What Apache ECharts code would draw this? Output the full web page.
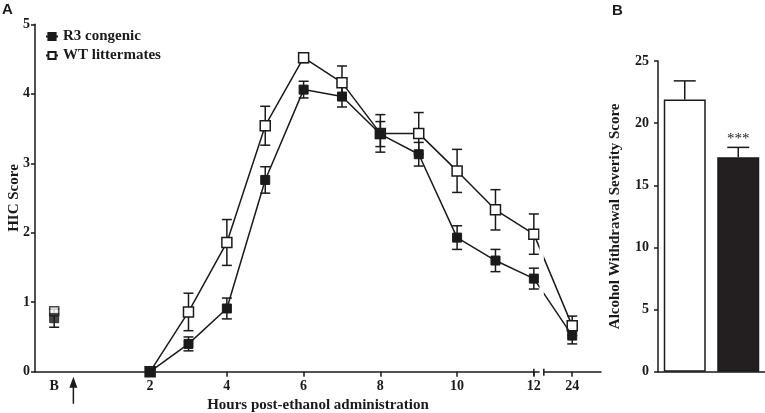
<!DOCTYPE html>
<html>
<head>
<meta charset="utf-8">
<script src="https://cdn.jsdelivr.net/npm/echarts@6/dist/echarts.min.js"></script>
<style>
  html, body { margin: 0; padding: 0; background: #fff; }
  #main { width: 765px; height: 413px; }
</style>
</head>
<body>
<div id="main"></div>
<script>
// panel A: HIC score over time (hours; 24 h sits after the axis break)
var hours  = [2, 3, 4, 5, 6, 7, 8, 9, 10, 11, 12, 24];
var r3Mean = [0, 0.40, 0.91, 2.76, 4.06, 3.96, 3.42, 3.13, 1.93, 1.60, 1.34, 0.52];
var r3Err  = [0, 0.10, 0.15, 0.19, 0.12, 0.15, 0.18, 0.17, 0.17, 0.16, 0.15, 0.12];
var wtMean = [0, 0.86, 1.86, 3.54, 4.52, 4.16, 3.43, 3.43, 2.89, 2.33, 1.98, 0.66];
var wtErr  = [0, 0.27, 0.33, 0.28, 0.07, 0.24, 0.27, 0.30, 0.31, 0.29, 0.29, 0.14];
// baseline ("B") values: mean, sem
var r3Base = [0.77, 0.13];
var wtBase = [0.87, 0.03];
var xTickLabels = ['B', 2, 4, 6, 8, 10, 12, 24];

// panel B: alcohol withdrawal severity score
var groups  = ['WT littermates', 'R3 congenic'];
var awsMean = [21.9, 17.25];
var awsErr  = [1.5, 0.8];
var awsSig  = ['', '***'];

var INK = '#1a1a1a';
var SERIF = '"Liberation Serif", "DejaVu Serif", serif';

// where each hour label sits on the drawn axis
function pos(h) {
  if (h === 'B') return -0.5;
  if (h === 24) return 13;
  return h;
}
var breakFrom = 12.15, breakTo = 12.26;

function pts(means) {
  return hours.map(function (h, i) { return [pos(h), means[i]]; });
}
function errs(means, sems) {
  var out = [];
  hours.forEach(function (h, i) {
    if (sems[i] > 0) out.push([pos(h), means[i] - sems[i], means[i] + sems[i]]);
  });
  return out;
}

function errRender(cap, upOnly) {
  return function (params, api) {
    var x = api.value(0);
    var lo = api.value(1), hi = api.value(2);
    var pLo = api.coord([x, lo]);
    var pHi = api.coord([x, hi]);
    var s = { stroke: INK, lineWidth: 1.5 };
    var kids = [
      { type: 'line', shape: { x1: pLo[0], y1: pLo[1], x2: pHi[0], y2: pHi[1] }, style: s },
      { type: 'line', shape: { x1: pHi[0] - cap, y1: pHi[1], x2: pHi[0] + cap, y2: pHi[1] }, style: s }
    ];
    if (!upOnly) {
      kids.push({ type: 'line', shape: { x1: pLo[0] - cap, y1: pLo[1], x2: pLo[0] + cap, y2: pLo[1] }, style: s });
    }
    if (upOnly && awsSig[params.dataIndex]) {
      kids.push({ type: 'text', x: pHi[0], y: pHi[1] - 1,
        style: { text: awsSig[params.dataIndex], fill: INK, font: '15px ' + SERIF,
                 align: 'center', verticalAlign: 'bottom' } });
    }
    return { type: 'group', children: kids };
  };
}

var openStyle = { color: '#fff', borderColor: INK, borderWidth: 1.5 };
var fillStyle = { color: INK, borderColor: INK, borderWidth: 1 };
var tickFont = { fontFamily: SERIF, fontWeight: 'bold', fontSize: 14, color: INK };
var nameFont = { fontFamily: SERIF, fontWeight: 'bold', fontSize: 15, color: INK };
var letterFont = 'bold 15px "Liberation Sans", Arial, sans-serif';

var chart = echarts.init(document.getElementById('main'));

var option = {
  animation: false,
  legend: {
    data: ['R3 congenic', 'WT littermates'],
    orient: 'vertical',
    left: 40, top: 24,
    itemWidth: 12, itemHeight: 9, itemGap: 4,
    textStyle: nameFont,
    selectedMode: false
  },
  grid: [
    { left: 35, top: 24.3, width: 566, height: 347.4, outerBoundsMode: 'none', containLabel: false },
    { left: 658, top: 61, width: 107, height: 310.7, outerBoundsMode: 'none', containLabel: false }
  ],
  xAxis: [
    {
      type: 'value', gridIndex: 0, min: -1, max: 13.75,
      name: 'Hours post-ethanol administration', nameLocation: 'middle', nameGap: 26,
      nameMoveOverlap: false, nameTextStyle: nameFont,
      splitLine: { show: false },
      axisLine: { onZero: false, lineStyle: { color: INK, width: 1.5 } },
      axisTick: { length: 5, lineStyle: { color: INK, width: 1.5 },
                  customValues: [2, 4, 6, 8, 10, 12, 24].map(pos) },
      axisLabel: Object.assign({ margin: 8,
        customValues: xTickLabels.map(pos),
        formatter: function (v) {
          for (var i = 0; i < xTickLabels.length; i++) {
            if (pos(xTickLabels[i]) === v) return String(xTickLabels[i]);
          }
          return '';
        } }, tickFont)
    },
    {
      type: 'category', gridIndex: 1, data: groups,
      axisLine: { onZero: false, lineStyle: { color: INK, width: 1.5 } },
      axisTick: { show: false }, axisLabel: { show: false }
    }
  ],
  yAxis: [
    {
      type: 'value', gridIndex: 0, min: 0, max: 5, interval: 1,
      name: 'HIC Score', nameLocation: 'middle', nameGap: 13,
      nameMoveOverlap: false, nameTextStyle: nameFont,
      splitLine: { show: false },
      axisLine: { show: true, onZero: false, lineStyle: { color: INK, width: 1.5 } },
      axisTick: { show: true, length: 4, lineStyle: { color: INK, width: 1.5 } },
      axisLabel: Object.assign({ margin: 5 }, tickFont)
    },
    {
      type: 'value', gridIndex: 1, min: 0, max: 25, interval: 5,
      name: 'Alcohol Withdrawal Severity Score', nameLocation: 'middle', nameGap: 35,
      nameMoveOverlap: false, nameTextStyle: nameFont,
      splitLine: { show: false },
      axisLine: { show: true, onZero: false, lineStyle: { color: INK, width: 1.5 } },
      axisTick: { show: true, length: 4, lineStyle: { color: INK, width: 1.5 } },
      axisLabel: Object.assign({ margin: 9 }, tickFont)
    }
  ],
  series: [
    { type: 'custom', name: 'wtErr', xAxisIndex: 0, yAxisIndex: 0, z: 1,
      renderItem: errRender(5, false), encode: { x: 0, y: [1, 2] },
      data: errs(wtMean, wtErr).concat([[pos('B'), wtBase[0] - wtBase[1], wtBase[0] + wtBase[1]]]) },
    { type: 'custom', name: 'r3Err', xAxisIndex: 0, yAxisIndex: 0, z: 1,
      renderItem: errRender(5, false), encode: { x: 0, y: [1, 2] },
      data: errs(r3Mean, r3Err).concat([[pos('B'), r3Base[0] - r3Base[1], r3Base[0] + r3Base[1]]]) },
    { type: 'line', name: 'WT littermates', xAxisIndex: 0, yAxisIndex: 0, z: 3,
      symbol: 'rect', symbolSize: 10, showAllSymbol: true,
      itemStyle: openStyle, lineStyle: { color: INK, width: 1.5 },
      emphasis: { disabled: true }, data: pts(wtMean) },
    { type: 'line', name: 'R3 congenic', xAxisIndex: 0, yAxisIndex: 0, z: 4,
      symbol: 'rect', symbolSize: 9, showAllSymbol: true,
      itemStyle: fillStyle, lineStyle: { color: INK, width: 1.5 },
      emphasis: { disabled: true }, data: pts(r3Mean) },
    { type: 'scatter', name: 'WT base', xAxisIndex: 0, yAxisIndex: 0, z: 3,
      symbol: 'rect', symbolSize: 9, itemStyle: openStyle,
      data: [[pos('B'), wtBase[0]]] },
    { type: 'scatter', name: 'R3 base', xAxisIndex: 0, yAxisIndex: 0, z: 4,
      symbol: 'rect', symbolSize: 9, itemStyle: fillStyle,
      data: [[pos('B'), r3Base[0]]] },
    // axis break: white gap over axis and connecting lines, plus end bars
    { type: 'custom', name: 'break', xAxisIndex: 0, yAxisIndex: 0, z: 10, silent: true,
      data: [[breakFrom, breakTo]],
      renderItem: function (params, api) {
        var a = api.coord([api.value(0), 0]);
        var b = api.coord([api.value(1), 0]);
        var top = api.coord([12, 2.4]);
        var tick12 = api.coord([12, 0]);
        var s = { stroke: INK, lineWidth: 1.5 };
        return { type: 'group', children: [
          { type: 'rect', shape: { x: a[0], y: top[1], width: b[0] - a[0], height: a[1] - top[1] + 2 },
            style: { fill: '#fff' } },
          { type: 'line', shape: { x1: tick12[0], y1: a[1] - 3, x2: tick12[0], y2: a[1] + 4 }, style: s },
          { type: 'line', shape: { x1: b[0], y1: b[1] - 3, x2: b[0], y2: b[1] + 4 }, style: s }
        ] };
      } },
    { type: 'bar', name: 'AWS', xAxisIndex: 1, yAxisIndex: 1, barWidth: 42, z: 2,
      emphasis: { disabled: true },
      data: awsMean.map(function (v, i) {
        return { value: v, itemStyle: i === 0
          ? { color: '#fff', borderColor: INK, borderWidth: 1.5 }
          : { color: '#231f20', borderColor: INK, borderWidth: 1.5 } };
      }) },
    { type: 'custom', name: 'awsErr', xAxisIndex: 1, yAxisIndex: 1, z: 1,
      renderItem: errRender(11, true), encode: { x: 0, y: [1, 2] },
      data: groups.map(function (g, i) { return [g, awsMean[i], awsMean[i] + awsErr[i]]; }) }
  ]
};

chart.setOption(option);

// panel letters and the arrow marking ethanol administration (hour 0)
var ax = chart.convertToPixel({ xAxisIndex: 0, yAxisIndex: 0 }, [0, 0]);
chart.setOption({
  graphic: [
    { type: 'text', left: 2, top: 2, style: { text: 'A', font: letterFont, fill: INK } },
    { type: 'text', left: 612, top: 3, style: { text: 'B', font: letterFont, fill: INK } },
    { type: 'line', shape: { x1: ax[0], y1: ax[1] + 13, x2: ax[0], y2: ax[1] + 32 },
      style: { stroke: INK, lineWidth: 1.5 } },
    { type: 'polygon', shape: { points: [[ax[0] - 4, ax[1] + 16], [ax[0], ax[1] + 5], [ax[0] + 4, ax[1] + 16]] },
      style: { fill: INK } }
  ]
});
</script>
</body>
</html>
